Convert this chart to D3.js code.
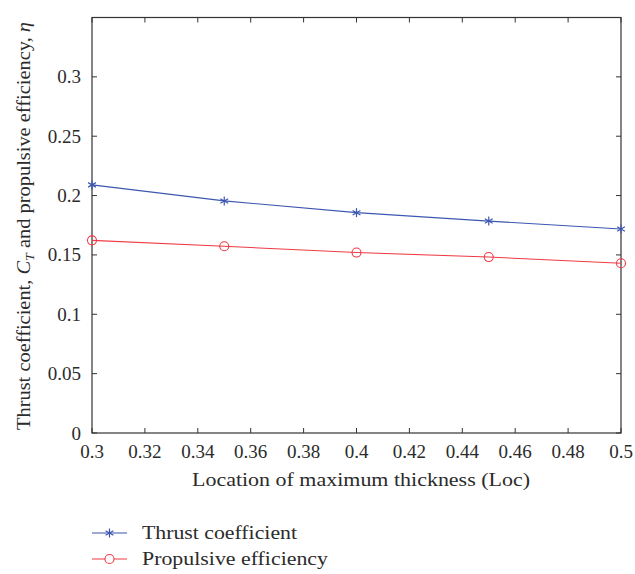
<!DOCTYPE html>
<html>
<head>
<meta charset="utf-8">
<script src="https://cdn.jsdelivr.net/npm/d3@7"></script>
<style>
  body { margin: 0; background: #fff; }
  text { font-family: "Liberation Serif", "DejaVu Serif", serif; fill: #2b2b2b; }
</style>
</head>
<body>
<svg width="635" height="574"></svg>
<script>
var locations = [0.3, 0.35, 0.4, 0.45, 0.5];
var thrustCoef = [0.209, 0.1955, 0.1856, 0.1785, 0.1718];
var propEff = [0.1623, 0.1573, 0.152, 0.1482, 0.143];
var xTicks = [0.3, 0.32, 0.34, 0.36, 0.38, 0.4, 0.42, 0.44, 0.46, 0.48, 0.5];
var yTicks = [0, 0.05, 0.1, 0.15, 0.2, 0.25, 0.3];
var seriesNames = ["Thrust coefficient", "Propulsive efficiency"];

var svg = d3.select("svg");
var plotL = 92, plotR = 621, plotT = 17.5, plotB = 433;

var x = d3.scaleLinear().domain([0.3, 0.5]).range([plotL, plotR]);
var y = d3.scaleLinear().domain([0, 0.35]).range([plotB, plotT]);

var blue = "#3d57b0", red = "#ee3b44", axisCol = "#333";
var fs = 19;

// frame
svg.append("rect")
    .attr("x", plotL).attr("y", plotT)
    .attr("width", plotR - plotL).attr("height", plotB - plotT)
    .attr("fill", "none").attr("stroke", axisCol).attr("stroke-width", 1.2);

// ticks (inward, mirrored)
var tl = 5;
function fmt(d) { return String(+d.toFixed(2)); }

var gx = svg.append("g");
xTicks.forEach(function(t) {
    gx.append("line").attr("x1", x(t)).attr("x2", x(t))
        .attr("y1", plotB).attr("y2", plotB - tl).attr("stroke", axisCol);
    gx.append("line").attr("x1", x(t)).attr("x2", x(t))
        .attr("y1", plotT).attr("y2", plotT + tl).attr("stroke", axisCol);
    gx.append("text").attr("x", x(t)).attr("y", 458)
        .attr("text-anchor", "middle").attr("font-size", fs)
        .text(fmt(t));
});

var gy = svg.append("g");
yTicks.forEach(function(t) {
    gy.append("line").attr("x1", plotL).attr("x2", plotL + tl)
        .attr("y1", y(t)).attr("y2", y(t)).attr("stroke", axisCol);
    gy.append("line").attr("x1", plotR).attr("x2", plotR - tl)
        .attr("y1", y(t)).attr("y2", y(t)).attr("stroke", axisCol);
    gy.append("text").attr("x", 81).attr("y", y(t) + 6.5)
        .attr("text-anchor", "end").attr("font-size", fs)
        .text(fmt(t));
});

// axis labels
svg.append("text").attr("x", 192).attr("y", 486)
    .attr("font-size", fs).attr("textLength", 338).attr("lengthAdjust", "spacingAndGlyphs")
    .text("Location of maximum thickness (Loc)");

var yl = svg.append("text")
    .attr("transform", "translate(30,430) rotate(-90)")
    .attr("font-size", fs).attr("textLength", 408).attr("lengthAdjust", "spacingAndGlyphs");
yl.append("tspan").text("Thrust coefficient, ");
yl.append("tspan").attr("font-style", "italic").text("C");
yl.append("tspan").attr("font-style", "italic").attr("font-size", 13).attr("dy", 4).text("T");
yl.append("tspan").attr("dy", -4).text(" and propulsive efficiency, ");
yl.append("tspan").attr("font-style", "italic").text("η");

// series
var line = d3.line().x(function(d) { return x(d[0]); }).y(function(d) { return y(d[1]); });
var tData = d3.zip(locations, thrustCoef);
var pData = d3.zip(locations, propEff);

svg.append("path").datum(tData).attr("d", line)
    .attr("fill", "none").attr("stroke", blue).attr("stroke-width", 1.1);
svg.append("path").datum(pData).attr("d", line)
    .attr("fill", "none").attr("stroke", red).attr("stroke-width", 1.1);

function star(g, cx, cy, r) {
    [0, 60, 120].forEach(function(a) {
        var rad = a * Math.PI / 180 + Math.PI / 2;
        g.append("line")
            .attr("x1", cx - r * Math.cos(rad)).attr("y1", cy - r * Math.sin(rad))
            .attr("x2", cx + r * Math.cos(rad)).attr("y2", cy + r * Math.sin(rad))
            .attr("stroke", blue).attr("stroke-width", 1.2);
    });
}
var gm = svg.append("g");
tData.forEach(function(d) { star(gm, x(d[0]), y(d[1]), 4.5); });
pData.forEach(function(d) {
    gm.append("circle").attr("cx", x(d[0])).attr("cy", y(d[1])).attr("r", 4.5)
        .attr("fill", "none").attr("stroke", red).attr("stroke-width", 1.1);
});

// legend
var lg = svg.append("g");
var legendY = [533, 559];
var legendW = [155, 186];
[blue, red].forEach(function(c, i) {
    var ly = legendY[i];
    lg.append("line").attr("x1", 92).attr("x2", 127).attr("y1", ly).attr("y2", ly)
        .attr("stroke", c).attr("stroke-width", 1.1);
    if (i === 0) star(lg, 109.5, ly, 4.5);
    else lg.append("circle").attr("cx", 109.5).attr("cy", ly).attr("r", 4.5)
        .attr("fill", "#fff").attr("stroke", c).attr("stroke-width", 1.1);
    lg.append("text").attr("x", 142).attr("y", ly + 6).attr("font-size", fs)
        .attr("textLength", legendW[i]).attr("lengthAdjust", "spacingAndGlyphs")
        .text(seriesNames[i]);
});
</script>
</body>
</html>
